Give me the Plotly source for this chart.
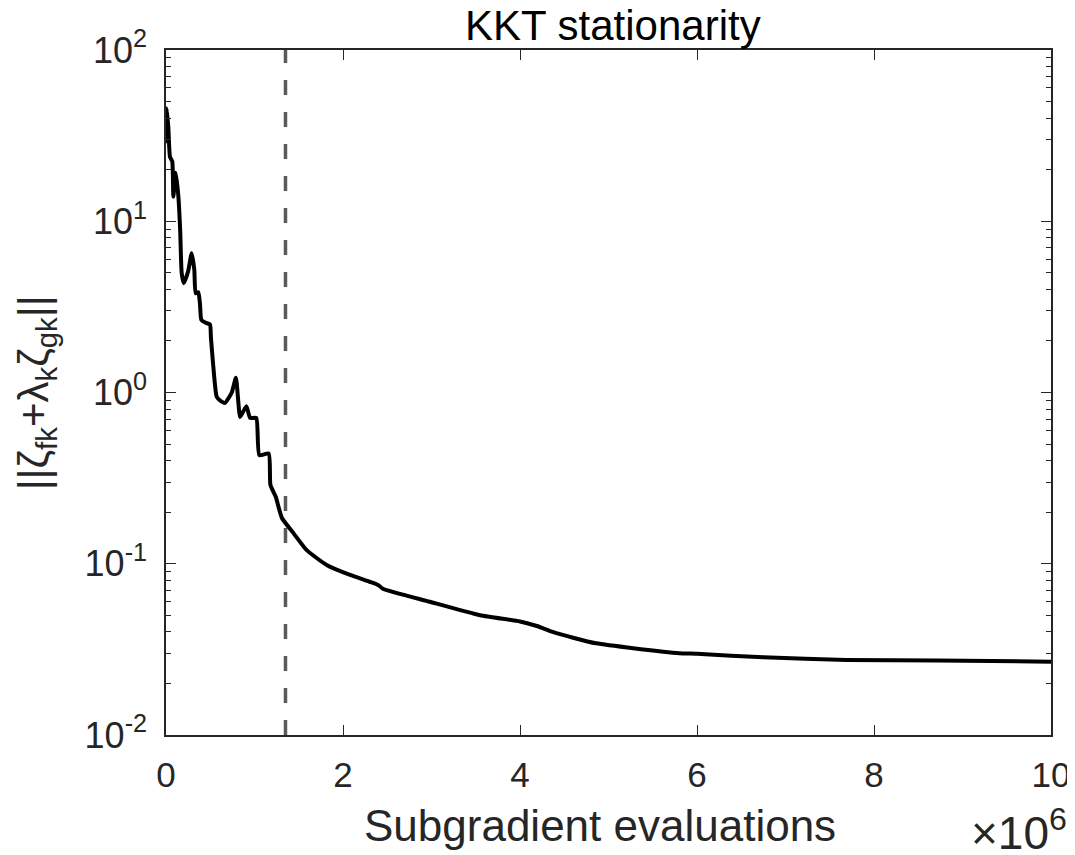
import plotly.graph_objects as go

# subgradient evaluations (in millions) and KKT stationarity measure
evals_m = [0.000, 0.008, 0.026, 0.045, 0.071, 0.083, 0.110, 0.140, 0.160, 0.177,
           0.200, 0.250, 0.290, 0.320, 0.335, 0.365, 0.384, 0.400, 0.460, 0.497,
           0.508, 0.535, 0.573, 0.620, 0.667, 0.743, 0.790, 0.837, 0.870, 0.910,
           0.950, 1.020, 1.055, 1.160, 1.180, 1.240, 1.310, 1.440, 1.590, 1.820,
           2.080, 2.300, 2.400, 2.450, 2.980, 3.550, 4.000, 4.190, 4.370, 4.600,
           4.860, 5.300, 5.800, 6.000, 6.750, 7.690, 8.710, 10.000]
kkt = [28.5, 45.6, 35.6, 23.8, 22.3, 13.9, 19.2, 13.9, 8.9, 5.0,
       4.35, 5.1, 6.5, 5.2, 3.8, 3.85, 3.3, 2.65, 2.54, 2.5,
       2.08, 1.41, 0.945, 0.89, 0.87, 1.0, 1.22, 0.72, 0.77, 0.83,
       0.71, 0.71, 0.43, 0.44, 0.288, 0.246, 0.185, 0.151, 0.120, 0.098,
       0.086, 0.0785, 0.075, 0.0715, 0.060, 0.050, 0.046, 0.0433, 0.040, 0.037,
       0.0343, 0.032, 0.030, 0.0298, 0.0284, 0.0274, 0.0272, 0.0268]

switch_m = 1.35  # dashed marker position (millions)

x_ticks = [0, 2, 4, 6, 8, 10]
y_ticks = [1e-2, 1e-1, 1e0, 1e1, 1e2]
y_ticktext = ["10<sup>-2</sup>", "10<sup>-1</sup>", "10<sup>0</sup>", "10<sup>1</sup>", "10<sup>2</sup>"]

scale = 1e6
minor_vals = [k * 10.0 ** e for e in range(-2, 2) for k in range(2, 10)]

ink = "#262626"
fnt = "Liberation Sans, Arial, Helvetica, sans-serif"

fig = go.Figure()
fig.add_trace(go.Scatter(x=[switch_m * scale, switch_m * scale], y=[y_ticks[0], y_ticks[-1]],
                         mode="lines", line=dict(color="#5a5a5a", width=3.5, dash="15px,17px"),
                         hoverinfo="skip", showlegend=False))
fig.add_trace(go.Scatter(x=[v * scale for v in evals_m], y=kkt, mode="lines",
                         line=dict(color="black", width=4, shape="spline", smoothing=0.5),
                         showlegend=False))

# page body adds an 8px margin, so the figure is 8px smaller than the window
fig.update_layout(
    width=1067, height=847,
    margin=dict(l=158, r=24, t=42, b=120, autoexpand=False),
    paper_bgcolor="white", plot_bgcolor="white",
    font=dict(family=fnt, color=ink),
)
fig.update_xaxes(
    range=[0, 10 * scale], tickvals=[t * scale for t in x_ticks], ticktext=[str(t) for t in x_ticks],
    ticks="inside", ticklen=10, tickwidth=1.3, tickcolor=ink,
    showline=True, linecolor=ink, linewidth=1.5, mirror="ticks",
    showgrid=False, zeroline=False, tickfont=dict(size=35, color=ink),
    ticklabelstandoff=8, automargin=False,
)
fig.update_yaxes(
    type="log", range=[-2, 2], tickvals=y_ticks, ticktext=y_ticktext,
    ticks="inside", ticklen=10, tickwidth=1.3, tickcolor=ink,
    minor=dict(tickvals=minor_vals, ticks="inside", ticklen=5, tickcolor=ink, showgrid=False),
    showline=True, linecolor=ink, linewidth=1.5, mirror="ticks",
    showgrid=False, zeroline=False, tickfont=dict(size=36, color=ink),
    ticklabelstandoff=10, automargin=False,
)

# title, axis labels and exponent
fig.add_annotation(text="KKT stationarity", xref="paper", yref="paper",
                   x=0.505, y=0.999, xanchor="center", yanchor="bottom", showarrow=False,
                   font=dict(size=42, color="black", family=fnt))
fig.add_annotation(text="Subgradient evaluations", xref="paper", yref="paper",
                   x=0.49, y=-0.093, xanchor="center", yanchor="top", showarrow=False,
                   font=dict(size=44, color=ink, family=fnt))
fig.add_annotation(text="||ζ<sub>fk</sub>+λ<sub>k</sub>ζ<sub>gk</sub>||", xref="paper", yref="paper",
                   x=-0.146, y=0.5, xanchor="center", yanchor="middle", textangle=-90,
                   showarrow=False, font=dict(size=42, color=ink, family=fnt))
fig.add_annotation(text="×10<sup>6</sup>", xref="paper", yref="paper",
                   x=1.02, y=-0.094, xanchor="right", yanchor="top", showarrow=False,
                   font=dict(size=46, color=ink, family=fnt))

fig.write_html("out.html")
